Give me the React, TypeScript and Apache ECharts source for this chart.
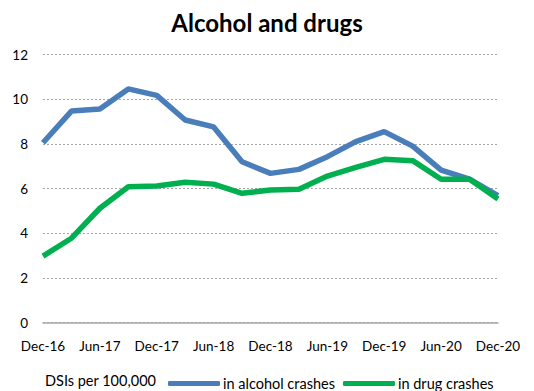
import React, { useEffect, useRef } from "react";
import * as echarts from "echarts";

const categories = [
  "Dec-16", "Mar-17", "Jun-17", "Sep-17", "Dec-17", "Mar-18", "Jun-18", "Sep-18", "Dec-18",
  "Mar-19", "Jun-19", "Sep-19", "Dec-19", "Mar-20", "Jun-20", "Sep-20", "Dec-20",
];
const alcohol = [8.05, 9.47, 9.56, 10.46, 10.17, 9.07, 8.76, 7.2, 6.68, 6.86, 7.43, 8.1, 8.55, 7.9, 6.83, 6.42, 5.68];
const drugs = [2.98, 3.78, 5.12, 6.08, 6.12, 6.28, 6.2, 5.79, 5.94, 5.97, 6.56, 6.95, 7.31, 7.25, 6.42, 6.42, 5.53];
const title = "Alcohol and drugs";
const legendPrefix = "DSIs per 100,000";
const seriesNames = ["in alcohol crashes", "in drug crashes"];

const FONT = "Lato, 'Open Sans', sans-serif";

export default function App() {
  const ref = useRef<HTMLDivElement>(null);
  useEffect(() => {
    if (!ref.current) return;
    const chart = echarts.init(ref.current, undefined, { renderer: "svg" });
    chart.setOption({
      animation: false,
      backgroundColor: "#ffffff",
      title: {
        text: title,
        left: "center",
        top: 5,
        textStyle: { fontFamily: FONT, fontSize: 24, fontWeight: "bold", color: "#000" },
      },
      grid: { left: 43, right: 36, top: 54.5, bottom: 68.3, containLabel: false },
      xAxis: {
        type: "category",
        data: categories,
        boundaryGap: false,
        axisLine: { show: true, lineStyle: { color: "#a6a6a6", width: 1.5 } },
        axisTick: { show: false },
        axisLabel: {
          interval: 1,
          fontFamily: FONT,
          fontSize: 13.5,
          color: "#000",
          margin: 16,
        },
        splitLine: { show: false },
      },
      yAxis: {
        type: "value",
        min: 0,
        max: 12,
        interval: 2,
        axisLine: { show: false },
        axisTick: { show: false },
        axisLabel: { fontFamily: FONT, fontSize: 13.5, color: "#000", margin: 15 },
        splitLine: { lineStyle: { color: "#a6a6a6", type: [2, 2], width: 1 } },
      },
      legend: {
        top: 371,
        left: 163,
        itemWidth: 52,
        itemHeight: 5,
        itemGap: 8,
        icon: "roundRect",
        textStyle: { fontFamily: FONT, fontSize: 14.5, color: "#000", padding: [0, 0, 0, -2] },
        data: seriesNames,
      },
      graphic: [
        {
          type: "text",
          left: 45,
          top: 373,
          style: { text: legendPrefix, font: `14.5px ${FONT}`, fill: "#000" },
        },
      ],
      series: [
        {
          name: seriesNames[0],
          type: "line",
          data: alcohol,
          symbol: "none",
          lineStyle: { color: "#4a7ebb", width: 5.5 },
          itemStyle: { color: "#4a7ebb" },
        },
        {
          name: seriesNames[1],
          type: "line",
          data: drugs,
          symbol: "none",
          lineStyle: { color: "#00b050", width: 5.5 },
          itemStyle: { color: "#00b050" },
        },
      ],
    });
    return () => chart.dispose();
  }, []);
  return (
    <div
      ref={ref}
      style={{ position: "fixed", left: 0, top: 0, width: 534, height: 391 }}
    />
  );
}
